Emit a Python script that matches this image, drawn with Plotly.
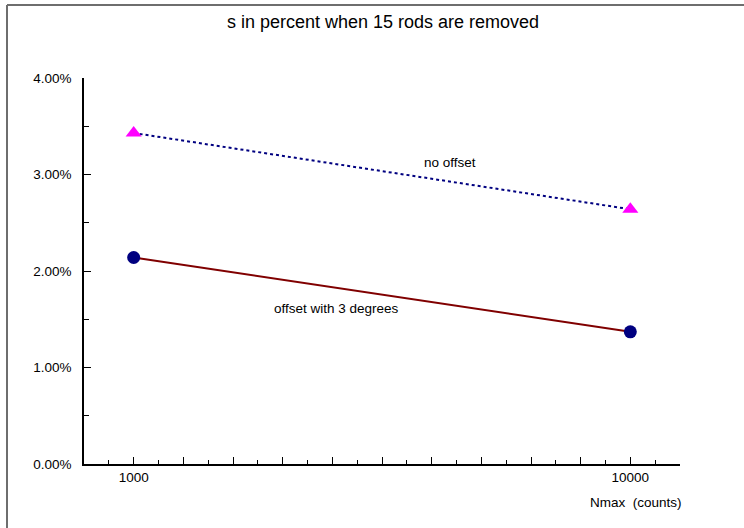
import plotly.graph_objects as go

# Nmax (counts) on a log scale, s in percent
nmax = [1000, 10000]
s_no_offset = [3.43, 2.64]
s_offset_3deg = [2.14, 1.37]

x_label_vals = [1000, 10000]
x_label_text = ["1000", "10000"]
y_tick_vals = [0, 1, 2, 3, 4]
y_minor_vals = [0.5, 1.5, 2.5, 3.5]

FONT = "Liberation Sans, Arial, sans-serif"

# plot-area geometry in pixels
L, R, T, B = 84, 680, 78, 464
W, H = 744, 528

def px_x(x):
    return (x - L) / (R - L)

def px_y(y):
    return (B - y) / (B - T)

# x ticks every 0.1 decade (long) with half steps in between (short)
major_x = [10 ** (2.9 + 0.1 * k) for k in range(13)]
minor_x = [10 ** (2.95 + 0.1 * k) for k in range(12)]
major_x_text = [x_label_text[x_label_vals.index(round(v))] if round(v) in x_label_vals else "" for v in major_x]

fig = go.Figure()

fig.add_trace(go.Scatter(
    x=nmax, y=s_no_offset, mode="lines",
    line=dict(color="#000080", width=2, dash="dot"),
    hoverinfo="skip", showlegend=False))
fig.add_trace(go.Scatter(
    x=nmax, y=s_no_offset, mode="markers",
    marker=dict(symbol="triangle-up", size=14, color="#FF00FF"),
    hoverinfo="skip", showlegend=False))

fig.add_trace(go.Scatter(
    x=nmax, y=s_offset_3deg, mode="lines",
    line=dict(color="#800000", width=2),
    hoverinfo="skip", showlegend=False))
fig.add_trace(go.Scatter(
    x=nmax, y=s_offset_3deg, mode="markers",
    marker=dict(symbol="circle", size=13, color="#000080"),
    hoverinfo="skip", showlegend=False))

fig.update_layout(
    width=W, height=H,
    margin=dict(l=L, r=W - R, t=T, b=H - B, pad=0),
    paper_bgcolor="white", plot_bgcolor="white",
    font=dict(family=FONT, size=13.5, color="black"),
    title=dict(text="s in percent when 15 rods are removed",
               x=383 / W, xanchor="center", xref="container",
               y=1 - 22 / H, yanchor="middle", yref="container",
               font=dict(family=FONT, size=18, color="black")),
    xaxis=dict(type="log", range=[2.9, 4.1],
               showgrid=False, zeroline=False,
               showline=True, linecolor="black", linewidth=1.5,
               tickmode="array", tickvals=major_x, ticktext=major_x_text,
               ticks="inside", ticklen=7, tickwidth=1.2, tickcolor="black",
               tickfont=dict(family=FONT, size=13.5),
               minor=dict(tickmode="array", tickvals=minor_x,
                          ticks="inside", ticklen=4, tickwidth=1, tickcolor="black",
                          showgrid=False)),
    yaxis=dict(range=[0, 4],
               showgrid=False, zeroline=False,
               showline=True, linecolor="black", linewidth=1.5,
               tickmode="array", tickvals=y_tick_vals,
               ticktext=[f"{v:.2f}%" for v in y_tick_vals],
               ticks="inside", ticklen=7, tickwidth=1.2, tickcolor="black",
               ticklabelstandoff=8,
               tickfont=dict(family=FONT, size=13.5),
               minor=dict(tickmode="array", tickvals=y_minor_vals,
                          ticks="inside", ticklen=5, tickwidth=1, tickcolor="black",
                          showgrid=False)),
    annotations=[
        dict(text="no offset", x=px_x(450), y=px_y(162), xref="paper", yref="paper",
             showarrow=False, xanchor="center", yanchor="middle",
             font=dict(family=FONT, size=13.5)),
        dict(text="offset with 3 degrees", x=px_x(336), y=px_y(308), xref="paper", yref="paper",
             showarrow=False, xanchor="center", yanchor="middle",
             font=dict(family=FONT, size=13.5)),
        dict(text="Nmax\u00a0 (counts)", x=px_x(636), y=px_y(503), xref="paper", yref="paper",
             showarrow=False, xanchor="center", yanchor="middle",
             font=dict(family=FONT, size=13.5)),
    ],
    shapes=[
        # outer frame (top and left edges)
        dict(type="line", xref="paper", yref="paper",
             x0=px_x(7), x1=px_x(W + 2), y0=px_y(5), y1=px_y(5),
             line=dict(color="#6e6e6e", width=2)),
        dict(type="line", xref="paper", yref="paper",
             x0=px_x(7), x1=px_x(7), y0=px_y(5), y1=px_y(H + 2),
             line=dict(color="#6e6e6e", width=2)),
    ],
)

fig.write_html("out.html")
